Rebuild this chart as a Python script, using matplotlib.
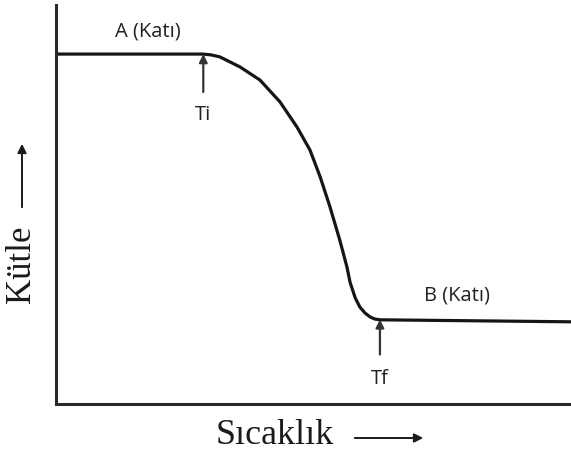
import matplotlib
matplotlib.use("Agg")
import matplotlib.pyplot as plt

# Data (temperature 0-100, mass 0-100; arbitrary units)
temperature = [0.2, 28.5, 30.1, 31.8, 35.7, 39.6, 43.5, 46.8, 49.3, 51.3, 53.2,
               55.1, 56.5, 57.1, 58.1, 59.0, 60.0, 61.0, 61.9, 62.9, 100.0]
mass = [87.7, 87.7, 87.5, 87.0, 84.5, 81.2, 75.7, 69.4, 63.7, 56.9, 49.4,
        41.1, 34.3, 30.5, 26.6, 24.3, 22.8, 21.8, 21.3, 21.1, 20.6]

ti_point = (28.6, 87.7)
tf_point = (62.9, 21.2)
labels = {"A": "A (Katı)", "B": "B (Katı)", "Ti": "Ti", "Tf": "Tf"}
xlabel = "Sıcaklık"
ylabel = "Kütle"

W, H = 571, 457
fig = plt.figure(figsize=(W / 100, H / 100), dpi=100)
ax = fig.add_axes([56 / W, 1 - 404 / H, (W - 56) / W, 399 / H])
ax.set_xlim(0, 100)
ax.set_ylim(0, 100)

ax.plot(temperature, mass, color="#151515", lw=2.3, solid_joinstyle="round",
        solid_capstyle="round")

for s in ["top", "right"]:
    ax.spines[s].set_visible(False)
for s in ["left", "bottom"]:
    ax.spines[s].set_linewidth(2.2)
    ax.spines[s].set_color("#2a2a2a")
ax.set_xticks([])
ax.set_yticks([])

sans = "Open Sans"
txtc = "#222222"
fs = 14.5
# arrows to Ti and Tf
ax.annotate("", xy=ti_point, xytext=(ti_point[0], ti_point[1] - 9.5),
            arrowprops=dict(arrowstyle="-|>", color="#333333", lw=1.6,
                            mutation_scale=12, shrinkA=0, shrinkB=0))
ax.text(ti_point[0], ti_point[1] - 15.2, labels["Ti"], ha="center", va="center",
        fontsize=fs, family=sans, color=txtc)
ax.annotate("", xy=tf_point, xytext=(tf_point[0], tf_point[1] - 8.8),
            arrowprops=dict(arrowstyle="-|>", color="#333333", lw=1.6,
                            mutation_scale=12, shrinkA=0, shrinkB=0))
ax.text(tf_point[0], tf_point[1] - 15.0, labels["Tf"], ha="center", va="center",
        fontsize=fs, family=sans, color=txtc)

ax.text(17.8, 93.3, labels["A"], ha="center", va="center", fontsize=fs,
        family=sans, color=txtc)
ax.text(77.8, 27.2, labels["B"], ha="center", va="center", fontsize=fs,
        family=sans, color=txtc)

serif = "Liberation Serif"
fig.text(275 / W, 1 - 436 / H, xlabel, ha="center", va="center", fontsize=26,
         family=serif, color="#1a1a1a")
fig.text(22 / W, 1 - 264 / H, ylabel, ha="center", va="center", fontsize=25,
         family=serif, color="#1a1a1a", rotation=90)

fig.add_artist(matplotlib.patches.FancyArrowPatch(
    (352 / W, 1 - 438 / H), (426 / W, 1 - 438 / H), transform=fig.transFigure,
    arrowstyle="-|>", mutation_scale=13, color="#1a1a1a", lw=1.4))
fig.add_artist(matplotlib.patches.FancyArrowPatch(
    (22 / W, 1 - 210 / H), (22 / W, 1 - 141 / H), transform=fig.transFigure,
    arrowstyle="-|>", mutation_scale=13, color="#1a1a1a", lw=1.4))

fig.savefig("out.png", dpi=100)
